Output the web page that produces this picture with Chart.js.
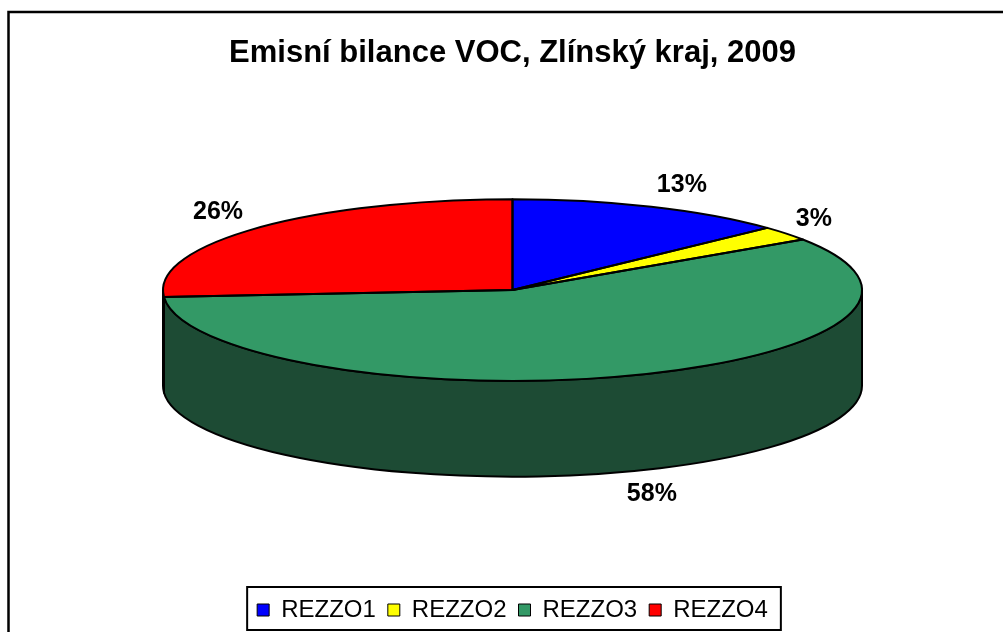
<!DOCTYPE html>
<html><head><meta charset="utf-8">
<script src="https://cdn.jsdelivr.net/npm/chart.js@4.4.1/dist/chart.umd.min.js"></script>
<style>html,body{margin:0;padding:0;background:#fff;overflow:hidden}#wrap{width:1003px;height:632px;position:relative}</style>
</head><body><div id="wrap"><canvas id="c" width="1003" height="632"></canvas></div>
<script>
const categories = ['REZZO1', 'REZZO2', 'REZZO3', 'REZZO4'];
const shares = [13.0, 2.6, 58.2, 26.2];
const chartTitle = 'Emisní bilance VOC, Zlínský kraj, 2009';

const topColors = ['#0000ff', '#ffff00', '#339966', '#ff0000'];
const sideColors = ['#000080', '#808000', '#1d4b34', '#800000'];
const FONT = "'Liberation Sans', Arial, Helvetica, sans-serif";
const TILT = 0.26, DEPTH = 0.274;

function geom(chart) {
  const a = chart.chartArea;
  const rx = (a.right - a.left) / 2;
  const ry = rx * TILT;
  return {cx: (a.left + a.right) / 2, cy: a.top + ry, rx, ry, depth: rx * DEPTH};
}

const pie3d = {
  id: 'pie3d',
  beforeDraw(chart) {
    const ctx = chart.ctx;
    ctx.save(); ctx.fillStyle = '#fff'; ctx.fillRect(0, 0, chart.width, chart.height); ctx.restore();
  },
  beforeDatasetsDraw(chart) {
    const ctx = chart.ctx, g = geom(chart), arcs = chart.getDatasetMeta(0).data;
    ctx.save();
    ctx.lineWidth = 2; ctx.strokeStyle = '#000'; ctx.lineJoin = 'round';
    arcs.forEach((arc, i) => {
      const s = arc.startAngle, e = arc.endAngle;
      [[0, Math.PI], [2 * Math.PI, 3 * Math.PI]].forEach(([v0, v1]) => {
        const a1 = Math.max(s, v0), a2 = Math.min(e, v1);
        if (a2 - a1 <= 1e-4) return;
        ctx.beginPath();
        ctx.ellipse(g.cx, g.cy, g.rx, g.ry, 0, a1, a2, false);
        ctx.lineTo(g.cx + g.rx * Math.cos(a2), g.cy + g.depth + g.ry * Math.sin(a2));
        ctx.ellipse(g.cx, g.cy + g.depth, g.rx, g.ry, 0, a2, a1, true);
        ctx.closePath();
        ctx.fillStyle = sideColors[i]; ctx.fill(); ctx.stroke();
      });
    });
    ctx.restore();
    const a0 = arcs[0];
    ctx.save();
    ctx.translate(g.cx, g.cy);
    ctx.scale(g.rx / a0.outerRadius, g.ry / a0.outerRadius);
    ctx.translate(-a0.x, -a0.y);
  },
  afterDatasetsDraw(chart) {
    const ctx = chart.ctx;
    ctx.restore();
    const g = geom(chart), arcs = chart.getDatasetMeta(0).data, area = chart.chartArea;
    ctx.save();
    ctx.lineWidth = 2; ctx.strokeStyle = '#000'; ctx.lineJoin = 'round';
    arcs.forEach(arc => {
      const s = arc.startAngle, e = arc.endAngle;
      ctx.beginPath();
      ctx.moveTo(g.cx, g.cy);
      ctx.lineTo(g.cx + g.rx * Math.cos(s), g.cy + g.ry * Math.sin(s));
      ctx.ellipse(g.cx, g.cy, g.rx, g.ry, 0, s, e, false);
      ctx.closePath();
      ctx.stroke();
    });
    const total = shares.reduce((p, v) => p + v, 0);
    ctx.font = 'bold 25px ' + FONT;
    ctx.fillStyle = '#000'; ctx.textAlign = 'center'; ctx.textBaseline = 'middle';
    arcs.forEach((arc, i) => {
      const mid = (arc.startAngle + arc.endAngle) / 2;
      const txt = Math.round(shares[i] / total * 100) + '%';
      const w = ctx.measureText(txt).width;
      let x = g.cx + g.rx * 1.22 * Math.cos(mid);
      const y = g.cy + g.ry * 1.26 * Math.sin(mid) + (Math.sin(mid) > 0 ? g.depth : 0);
      x = Math.min(x, area.right - 30 - w / 2);
      x = Math.max(x, area.left + 30 + w / 2);
      ctx.fillText(txt, x, y);
    });
    ctx.restore();
  },
  afterDraw(chart) {
    const ctx = chart.ctx;
    ctx.save();
    ctx.strokeStyle = '#000'; ctx.lineWidth = 2.5;
    ctx.beginPath(); ctx.moveTo(8.5, chart.height); ctx.lineTo(8.5, 12); ctx.lineTo(chart.width, 12); ctx.stroke();
    const hb = chart.legend.legendHitBoxes;
    if (hb && hb.length) {
      const first = hb[0], last = hb[hb.length - 1];
      const cy = first.top + first.height / 2;
      const l = first.left - 10, r = last.left + last.width + 13;
      ctx.lineWidth = 2;
      ctx.strokeRect(l, cy - 23, r - l, 43);
    }
    ctx.restore();
  }
};

new Chart(document.getElementById('c'), {
  type: 'pie',
  data: {
    labels: categories,
    datasets: [{data: shares, backgroundColor: topColors, borderWidth: 0, hoverOffset: 0, clip: false}]
  },
  options: {
    responsive: false, animation: false, events: [],
    layout: {padding: {left: 163, right: 141, top: 0, bottom: 0}},
    plugins: {
      title: {display: true, text: chartTitle, color: '#000',
        font: {family: FONT, size: 31, weight: 'bold'}, padding: {top: 35, bottom: 127}},
      legend: {position: 'bottom', labels: {color: '#000', font: {family: FONT, size: 24},
        boxWidth: 12, boxHeight: 12, padding: 12,
        generateLabels(chart) {
          const items = Chart.overrides.pie.plugins.legend.labels.generateLabels(chart);
          return items.map(it => Object.assign(it, {strokeStyle: '#000', lineWidth: 1}));
        }}},
      tooltip: {enabled: false}
    }
  },
  plugins: [pie3d]
});
</script></body></html>
